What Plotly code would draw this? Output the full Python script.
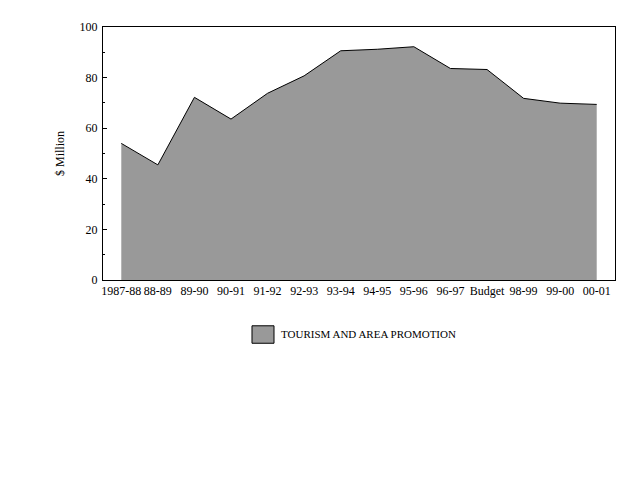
import plotly.graph_objects as go

# --- Data ---
years = ["1987-88", "88-89", "89-90", "90-91", "91-92", "92-93", "93-94",
         "94-95", "95-96", "96-97", "Budget", "98-99", "99-00", "00-01"]
spending = [54.0, 45.5, 72.2, 63.6, 73.8, 80.7, 90.6,
            91.2, 92.2, 83.6, 83.2, 71.8, 69.9, 69.4]
series_name = "TOURISM AND AREA PROMOTION"

FONT = "Liberation Serif, Times New Roman, serif"
FILL = "#999999"

fig = go.Figure()
fig.add_trace(go.Scatter(
    x=years,
    y=spending,
    mode="lines",
    fill="tozeroy",
    fillcolor=FILL,
    line=dict(color="black", width=1),
    name=series_name,
    showlegend=False,
))

# hand-made legend (box + label) below the plot
fig.add_shape(type="rect", xref="paper", yref="paper",
              x0=0.291, x1=0.334, y0=-0.181, y1=-0.250,
              fillcolor=FILL, line=dict(color="black", width=1))
fig.add_annotation(text=series_name, xref="paper", yref="paper",
                   x=0.343, y=-0.214, xanchor="left", yanchor="middle",
                   showarrow=False, font=dict(family=FONT, size=11, color="black"))

# page body adds an 8px offset, so margins are trimmed on top/left
fig.update_layout(
    width=640, height=480,
    margin=dict(l=95, r=33, t=17, b=208),
    paper_bgcolor="white",
    plot_bgcolor="white",
    font=dict(family=FONT, size=12, color="black"),
    xaxis=dict(
        type="category",
        range=[-0.5, len(years) - 0.5],
        showgrid=False,
        ticks="",
        tickangle=0,
        showline=True, linecolor="black", linewidth=1, mirror=True,
        tickfont=dict(size=12),
    ),
    yaxis=dict(
        range=[0, 100],
        dtick=20,
        showgrid=False,
        zeroline=False,
        ticks="inside", ticklen=4, tickcolor="black",
        ticklabelstandoff=2,
        showline=True, linecolor="black", linewidth=1, mirror=True,
        minor=dict(dtick=10, ticks="inside", ticklen=2, tickcolor="black"),
        title=dict(text="$ Million", standoff=12, font=dict(size=12)),
        tickfont=dict(size=12),
    ),
)

fig.write_html("out.html")
